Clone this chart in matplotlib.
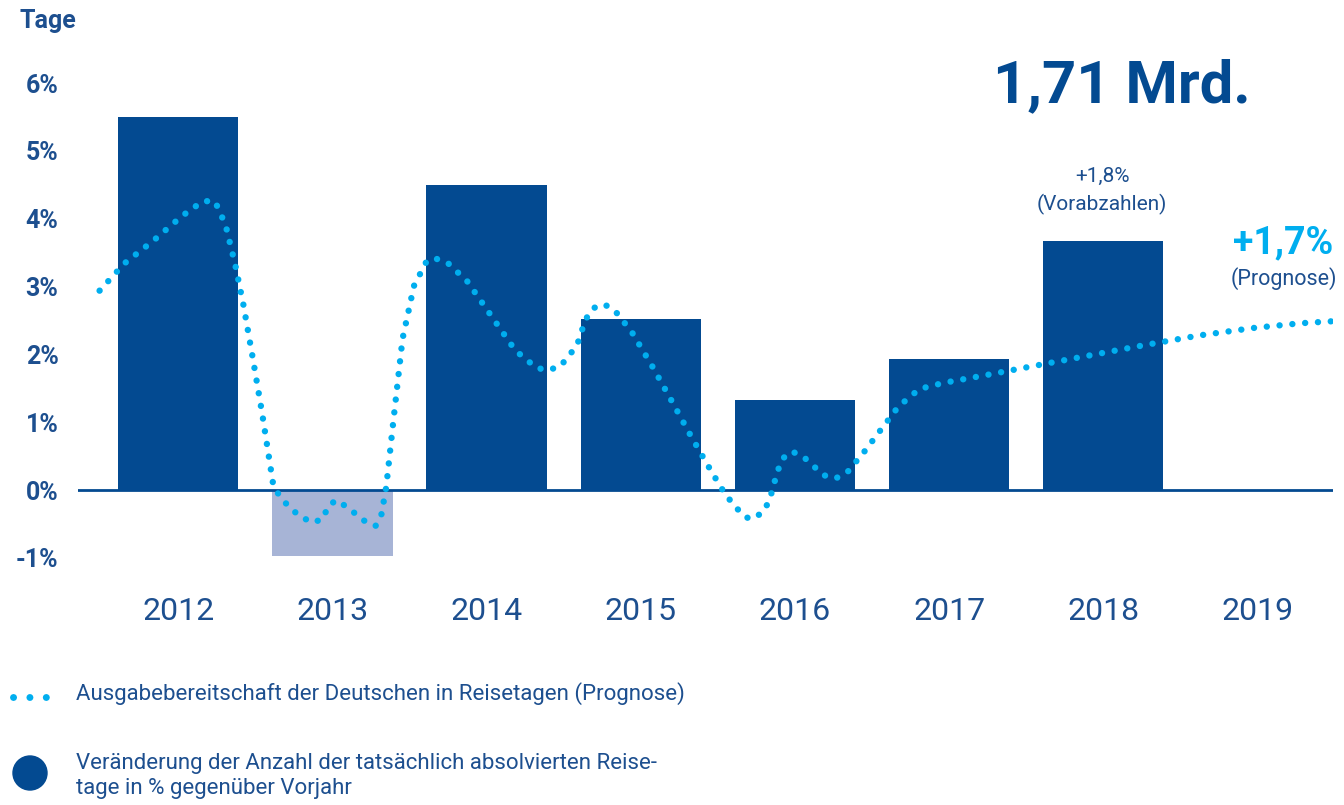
import numpy as np
import matplotlib
matplotlib.use('Agg')
import matplotlib.pyplot as plt
from matplotlib.patches import Ellipse

plt.rcParams['font.family'] = ['Roboto', 'DejaVu Sans']

# Daten
jahre = [2012, 2013, 2014, 2015, 2016, 2017, 2018]
veraenderung = [5.5, -0.98, 4.5, 2.52, 1.33, 1.93, 3.67]
jahr_labels = ['2012', '2013', '2014', '2015', '2016', '2017', '2018', '2019']
y_ticks = [-1, 0, 1, 2, 3, 4, 5, 6]
y_labels = ['-1%', '0%', '1%', '2%', '3%', '4%', '5%', '6%']

# Ausgabebereitschaft (Prognose)
prog_x = [2011.490, 2011.650, 2011.840, 2012.024, 2012.160, 2012.238, 2012.307,
          2012.370, 2012.423, 2012.484, 2012.543, 2012.597, 2012.618, 2012.668,
          2012.728, 2012.798, 2012.875, 2012.942, 2012.968, 2013.023, 2013.088,
          2013.150, 2013.211, 2013.280, 2013.318, 2013.349, 2013.396, 2013.455,
          2013.529, 2013.610, 2013.660, 2013.743, 2013.874, 2014.030, 2014.186,
          2014.324, 2014.398, 2014.477, 2014.586, 2014.641, 2014.689, 2014.763,
          2014.834, 2014.942, 2015.076, 2015.204, 2015.327, 2015.459, 2015.550,
          2015.661, 2015.710, 2015.788, 2015.834, 2015.885, 2015.918, 2015.980,
          2016.055, 2016.185, 2016.263, 2016.339, 2016.455, 2016.561, 2016.671,
          2016.807, 2016.963, 2017.228, 2017.574, 2017.923, 2018.274, 2018.623,
          2018.974, 2019.282, 2019.493]
prog_y = [2.94, 3.34, 3.68, 4.04, 4.26, 4.26, 3.91,
          3.32, 2.73, 1.94, 1.15, 0.36, 0.05, -0.12,
          -0.27, -0.40, -0.48, -0.42, -0.25, -0.15, -0.24,
          -0.35, -0.46, -0.53, -0.36, 0.04, 1.03, 2.23,
          3.01, 3.37, 3.42, 3.36, 3.08, 2.57, 2.06,
          1.80, 1.77, 1.82, 2.13, 2.51, 2.68, 2.74,
          2.64, 2.33, 1.82, 1.30, 0.79, 0.27, -0.07,
          -0.37, -0.43, -0.34, -0.16, 0.26, 0.46, 0.57,
          0.49, 0.22, 0.17, 0.26, 0.58, 0.90, 1.23,
          1.49, 1.58, 1.69, 1.84, 1.99, 2.14, 2.28,
          2.39, 2.46, 2.49]

dunkelblau = '#034a91'
textblau = '#1d4f8f'
hellblau = '#00aeef'
flieder = '#a7b4d6'

fig = plt.figure(figsize=(13.44, 8.05), dpi=100)
ax = fig.add_axes([78 / 1344, 1 - 580 / 805, 1255 / 1344, 520 / 805])

farben = [flieder if v < 0 else dunkelblau for v in veraenderung]
ax.bar(jahre, veraenderung, width=0.78, color=farben, zorder=2)
ax.axhline(0, color=dunkelblau, lw=2, zorder=3)
ax.plot(prog_x, prog_y, color=hellblau, lw=4.6, ls=(0, (0.01, 2.0)),
        dash_capstyle='round', zorder=4)

ax.set_xlim(2011.35, 2019.49)
ax.set_ylim(-1.327, 6.342)
for s in ax.spines.values():
    s.set_visible(False)

ax.set_yticks(y_ticks)
ax.set_yticklabels(y_labels, fontsize=18, fontweight='bold', color=textblau)
ax.set_xticks(range(2012, 2020))
ax.set_xticklabels(jahr_labels, fontsize=23, color=textblau)
ax.tick_params(axis='y', length=0, pad=14)
ax.tick_params(axis='x', length=0, pad=12)

fig.text(20 / 1344, 1 - 21 / 805, 'Tage', fontsize=18, fontweight='bold',
         color=textblau, ha='left', va='center')
fig.text(1122 / 1344, 1 - 86 / 805, '1,71 Mrd.', fontsize=43, fontweight='bold',
         color=dunkelblau, ha='center', va='center')
fig.text(1102 / 1344, 1 - 176 / 805, '+1,8%', fontsize=15, color=textblau,
         ha='center', va='center')
fig.text(1102 / 1344, 1 - 204 / 805, '(Vorabzahlen)', fontsize=15, color=textblau,
         ha='center', va='center')
fig.text(1283 / 1344, 1 - 243 / 805, '+1,7%', fontsize=27, fontweight='bold',
         color=hellblau, ha='center', va='center')
fig.text(1284 / 1344, 1 - 279 / 805, '(Prognose)', fontsize=15.5, color=textblau,
         ha='center', va='center')

# Legende
fig.lines.append(plt.Line2D([13 / 1344, 47 / 1344], [1 - 697 / 805, 1 - 697 / 805],
                            transform=fig.transFigure, color=hellblau, lw=5,
                            ls=(0, (0.01, 2.35)), dash_capstyle='round'))
fig.patches.append(Ellipse((30 / 1344, 1 - 773 / 805), 34 / 1344, 34 / 805,
                           transform=fig.transFigure, color=dunkelblau))
fig.text(76 / 1344, 1 - 694 / 805,
         'Ausgabebereitschaft der Deutschen in Reisetagen (Prognose)',
         fontsize=16, color=textblau, ha='left', va='center')
fig.text(76 / 1344, 1 - 776 / 805,
         'Veränderung der Anzahl der tatsächlich absolvierten Reise-\ntage in % gegenüber Vorjahr',
         fontsize=16, color=textblau, ha='left', va='center', linespacing=1.3)

fig.savefig('out.png', dpi=100)
